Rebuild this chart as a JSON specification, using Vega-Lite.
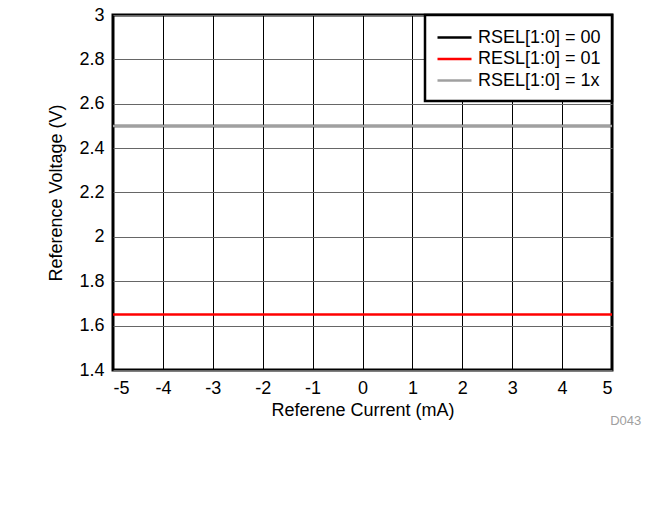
{
  "$schema": "https://vega.github.io/schema/vega-lite/v6.json",
  "autosize": "none",
  "width": 499,
  "height": 355,
  "padding": {"left": 113, "top": 15, "right": 57, "bottom": 138},
  "background": "white",
  "title": {"text": "D043", "orient": "bottom", "anchor": "end", "dx": 28, "offset": -4, "fontSize": 13, "fontWeight": "normal", "color": "#a0a0a0", "font": "Liberation Sans"},
  "data": {"values": [
    {"x": -5, "v": 2.5, "s": "RSEL[1:0] = 00"},
    {"x": 0, "v": 2.5, "s": "RSEL[1:0] = 00"},
    {"x": 5, "v": 2.5, "s": "RSEL[1:0] = 00"},
    {"x": -5, "v": 1.65, "s": "RESL[1:0] = 01"},
    {"x": 0, "v": 1.65, "s": "RESL[1:0] = 01"},
    {"x": 5, "v": 1.65, "s": "RESL[1:0] = 01"},
    {"x": -5, "v": 2.5, "s": "RSEL[1:0] = 1x"},
    {"x": 0, "v": 2.5, "s": "RSEL[1:0] = 1x"},
    {"x": 5, "v": 2.5, "s": "RSEL[1:0] = 1x"}
  ]},
  "mark": {"type": "line", "strokeWidth": 2.5, "clip": true},
  "encoding": {
    "x": {"field": "x", "type": "quantitative", "scale": {"domain": [-5, 5], "nice": false},
      "axis": {"title": "Referene Current (mA)", "values": [-5,-4,-3,-2,-1,0,1,2,3,4,5], "labelExpr": "'' + datum.value"}},
    "y": {"field": "v", "type": "quantitative", "scale": {"domain": [1.4, 3], "nice": false, "zero": false},
      "axis": {"title": "Reference Voltage (V)", "values": [1.4,1.6,1.8,2,2.2,2.4,2.6,2.8,3], "gridColor": "#666666", "labelExpr": "'' + datum.value"}},
    "color": {"field": "s", "type": "nominal",
      "scale": {"domain": ["RSEL[1:0] = 00", "RESL[1:0] = 01", "RSEL[1:0] = 1x"], "range": ["#000000", "#ff0000", "#a0a0a0"]},
      "legend": {"title": null, "orient": "top-right", "offset": 0, "fillColor": "white", "strokeColor": "black",
        "padding": 11, "symbolType": "M-1,0H2.4", "symbolSize": 400, "symbolStrokeWidth": 2.5, "labelFontSize": 18, "labelFont": "Liberation Sans", "labelColor": "black", "rowPadding": 0.5, "labelOffset": 19,
        "encode": {"legend": {"update": {"strokeWidth": {"value": 2.5}}}}}},
    "order": {"field": "s", "sort": "descending"}
  },
  "config": {
    "view": {"stroke": "black", "strokeWidth": 3},
    "axis": {"labelFont": "Liberation Sans", "titleFont": "Liberation Sans", "labelFontSize": 18, "titleFontSize": 18, "titleFontWeight": "normal",
      "labelColor": "black", "titleColor": "black", "domain": false, "ticks": false, "grid": true, "gridColor": "black", "gridOpacity": 1, "gridWidth": 1,
      "labelPadding": 9},
    "axisX": {"titlePadding": 4},
    "axisY": {"titlePadding": 13}
  }
}
